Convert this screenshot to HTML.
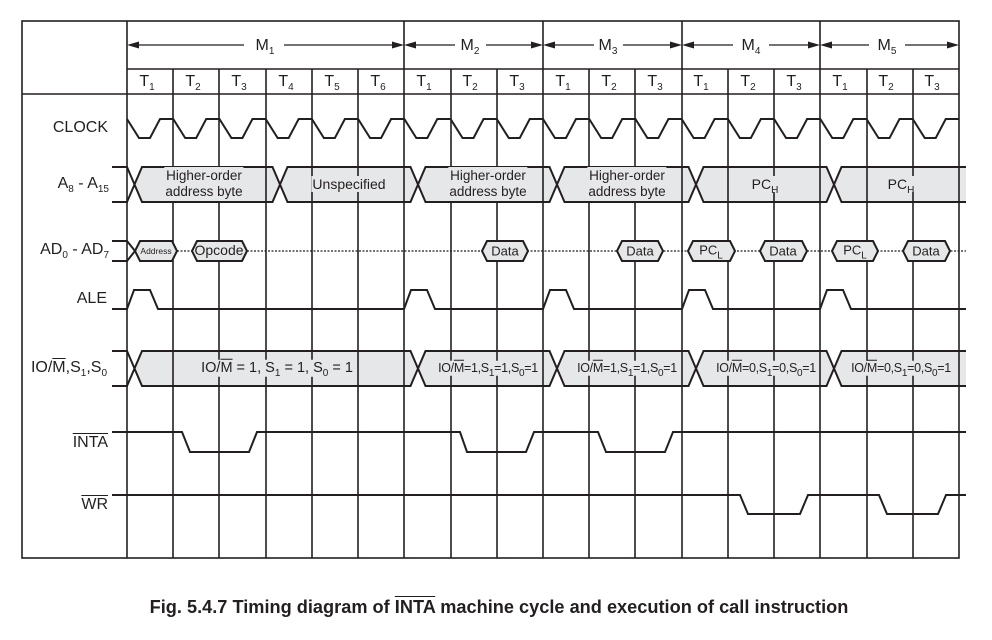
<!DOCTYPE html>
<html><head><meta charset="utf-8"><style>
html,body{margin:0;padding:0;background:#fff;}
body{width:992px;height:640px;position:relative;overflow:hidden;font-family:"Liberation Sans",Arial,sans-serif;color:#231f20;}
svg{position:absolute;left:0;top:0;}
.t{position:absolute;transform:translate(-50%,-50%);white-space:nowrap;line-height:1;}
.r{position:absolute;transform:translate(-100%,-50%);white-space:nowrap;line-height:1;font-size:16px;}
sub{font-size:10px;vertical-align:-4px;line-height:0;}
.ov{text-decoration:overline;}
.b{background:#e6e7e8;padding:1px 1px;}
.bw{background:#fff;}
</style></head><body>
<svg width="992" height="640" viewBox="0 0 992 640" fill="none" stroke="#231f20" stroke-width="1.6">
<g fill="#e6e7e8" stroke="#231f20" stroke-width="2">
<polyline points="112,167 127,167 134.5,184.5 127,202 112,202" fill="none"/>
<polygon points="134.5,184.5 142,167 272.5,167 280,184.5 272.5,202 142,202"/>
<polygon points="280,184.5 287.5,167 410.5,167 418,184.5 410.5,202 287.5,202"/>
<polygon points="418,184.5 425.5,167 549.5,167 557,184.5 549.5,202 425.5,202"/>
<polygon points="557,184.5 564.5,167 688.5,167 696,184.5 688.5,202 564.5,202"/>
<polygon points="696,184.5 703.5,167 826.5,167 834,184.5 826.5,202 703.5,202"/>
<path d="M966,167 H841.5 L834,184.5 L841.5,202 H966 Z" stroke="none"/>
<polyline points="966,167 841.5,167 834,184.5 841.5,202 966,202" fill="none"/>
<polyline points="112,351 127,351 134.5,368.5 127,386 112,386" fill="none"/>
<polygon points="134.5,368.5 142,351 410.5,351 418,368.5 410.5,386 142,386"/>
<polygon points="418,368.5 425.5,351 549.5,351 557,368.5 549.5,386 425.5,386"/>
<polygon points="557,368.5 564.5,351 688.5,351 696,368.5 688.5,386 564.5,386"/>
<polygon points="696,368.5 703.5,351 826.5,351 834,368.5 826.5,386 703.5,386"/>
<path d="M966,351 H841.5 L834,368.5 L841.5,386 H966 Z" stroke="none"/>
<polyline points="966,351 841.5,351 834,368.5 841.5,386 966,386" fill="none"/>
</g>
<rect x="22" y="21" width="937" height="537" stroke-width="1.6"/>
<line x1="22" y1="94" x2="959" y2="94"/>
<line x1="127" y1="69" x2="959" y2="69"/>
<g>
<line x1="127" y1="21" x2="127" y2="558"/>
<line x1="404" y1="21" x2="404" y2="558"/>
<line x1="543" y1="21" x2="543" y2="558"/>
<line x1="682" y1="21" x2="682" y2="558"/>
<line x1="820" y1="21" x2="820" y2="558"/>
<line x1="173" y1="69" x2="173" y2="558"/>
<line x1="219" y1="69" x2="219" y2="558"/>
<line x1="266" y1="69" x2="266" y2="558"/>
<line x1="312" y1="69" x2="312" y2="558"/>
<line x1="358" y1="69" x2="358" y2="558"/>
<line x1="451" y1="69" x2="451" y2="558"/>
<line x1="497" y1="69" x2="497" y2="558"/>
<line x1="589" y1="69" x2="589" y2="558"/>
<line x1="635" y1="69" x2="635" y2="558"/>
<line x1="728" y1="69" x2="728" y2="558"/>
<line x1="774" y1="69" x2="774" y2="558"/>
<line x1="867" y1="69" x2="867" y2="558"/>
<line x1="913" y1="69" x2="913" y2="558"/>
</g>
<g stroke-width="1.3">
<line x1="130" y1="45" x2="244" y2="45"/><line x1="284" y1="45" x2="401" y2="45"/>
<line x1="407" y1="45" x2="455" y2="45"/><line x1="486" y1="45" x2="540" y2="45"/>
<line x1="546" y1="45" x2="594" y2="45"/><line x1="623" y1="45" x2="679" y2="45"/>
<line x1="685" y1="45" x2="733" y2="45"/><line x1="769" y1="45" x2="817" y2="45"/>
<line x1="823" y1="45" x2="869" y2="45"/><line x1="905" y1="45" x2="956" y2="45"/>
</g>
<g fill="#231f20" stroke="none">
<polygon points="127,45 139,41.5 139,48.5"/><polygon points="404,45 392,41.5 392,48.5"/>
<polygon points="404,45 416,41.5 416,48.5"/><polygon points="543,45 531,41.5 531,48.5"/>
<polygon points="543,45 555,41.5 555,48.5"/><polygon points="682,45 670,41.5 670,48.5"/>
<polygon points="682,45 694,41.5 694,48.5"/><polygon points="820,45 808,41.5 808,48.5"/>
<polygon points="820,45 832,41.5 832,48.5"/><polygon points="959,45 947,41.5 947,48.5"/>
</g>
<path stroke-width="2" d="M127,119 l12,19 h11 l10,-19 h13.22 l12,19 h11 l10,-19 h13.22 l12,19 h11 l10,-19 h13.22 l12,19 h11 l10,-19 h13.22 l12,19 h11 l10,-19 h13.22 l12,19 h11 l10,-19 h13.22 l12,19 h11 l10,-19 h13.22 l12,19 h11 l10,-19 h13.22 l12,19 h11 l10,-19 h13.22 l12,19 h11 l10,-19 h13.22 l12,19 h11 l10,-19 h13.22 l12,19 h11 l10,-19 h13.22 l12,19 h11 l10,-19 h13.22 l12,19 h11 l10,-19 h13.22 l12,19 h11 l10,-19 h13.22 l12,19 h11 l10,-19 h13.22 l12,19 h11 l10,-19 h13.22 l12,19 h11 l10,-19 h13.22"/>
<line x1="177" y1="251" x2="966" y2="251" stroke-width="1.2" stroke-dasharray="2,1.5"/>
<g stroke-width="2">
<polyline points="112,241 127,241 135,251 127,261 112,261"/>
<g fill="#e6e7e8">
<polygon points="135,251 140,241 172,241 177,251 172,261 140,261"/>
<polygon points="192,251 197,241 242,241 247,251 242,261 197,261"/>
<polygon points="482,251 487,241 523,241 528,251 523,261 487,261"/>
<polygon points="617,251 622,241 658,241 663,251 658,261 622,261"/>
<polygon points="688,251 693,241 730,241 735,251 730,261 693,261"/>
<polygon points="760,251 765,241 802,241 807,251 802,261 765,261"/>
<polygon points="832,251 837,241 873,241 878,251 873,261 837,261"/>
<polygon points="903,251 908,241 945,241 950,251 945,261 908,261"/>
</g>
<path d="M112,309 H127 l7,-19 h16 l8,19 H404 l7,-19 h16 l8,19 H543 l7,-19 h16 l8,19 H682 l7,-19 h16 l8,19 H820 l7,-19 h16 l8,19 H966"/>
<path d="M112,432 H182 L190,452 H249 L257,432 H460 L467,452 H526 L534,432 H598 L606,452 H665 L673,432 H966"/>
<path d="M112,495 H740 L748,514 H800 L808,495 H879 L887,514 H938 L946,495 H966"/>
</g>
</svg>

<div class="t bw" style="left:265px;top:46px;font-size:16px;padding:0 3px">M<sub>1</sub></div>
<div class="t bw" style="left:470px;top:46px;font-size:16px">M<sub>2</sub></div>
<div class="t bw" style="left:608px;top:46px;font-size:16px">M<sub>3</sub></div>
<div class="t bw" style="left:751px;top:46px;font-size:16px">M<sub>4</sub></div>
<div class="t bw" style="left:887px;top:46px;font-size:16px">M<sub>5</sub></div>
<div class="t" style="left:147px;top:82px;font-size:16px">T<sub>1</sub></div>
<div class="t" style="left:193px;top:82px;font-size:16px">T<sub>2</sub></div>
<div class="t" style="left:239px;top:82px;font-size:16px">T<sub>3</sub></div>
<div class="t" style="left:286px;top:82px;font-size:16px">T<sub>4</sub></div>
<div class="t" style="left:332px;top:82px;font-size:16px">T<sub>5</sub></div>
<div class="t" style="left:378px;top:82px;font-size:16px">T<sub>6</sub></div>
<div class="t" style="left:424px;top:82px;font-size:16px">T<sub>1</sub></div>
<div class="t" style="left:470px;top:82px;font-size:16px">T<sub>2</sub></div>
<div class="t" style="left:517px;top:82px;font-size:16px">T<sub>3</sub></div>
<div class="t" style="left:563px;top:82px;font-size:16px">T<sub>1</sub></div>
<div class="t" style="left:609px;top:82px;font-size:16px">T<sub>2</sub></div>
<div class="t" style="left:655px;top:82px;font-size:16px">T<sub>3</sub></div>
<div class="t" style="left:701px;top:82px;font-size:16px">T<sub>1</sub></div>
<div class="t" style="left:748px;top:82px;font-size:16px">T<sub>2</sub></div>
<div class="t" style="left:794px;top:82px;font-size:16px">T<sub>3</sub></div>
<div class="t" style="left:840px;top:82px;font-size:16px">T<sub>1</sub></div>
<div class="t" style="left:886px;top:82px;font-size:16px">T<sub>2</sub></div>
<div class="t" style="left:932px;top:82px;font-size:16px">T<sub>3</sub></div>
<div class="r" style="left:108px;top:128px">CLOCK</div>
<div class="r" style="left:109px;top:184px">A<sub>8</sub> - A<sub>15</sub></div>
<div class="r" style="left:109px;top:250px">AD<sub>0</sub> - AD<sub>7</sub></div>
<div class="r" style="left:107px;top:299px">ALE</div>
<div class="r" style="left:107px;top:368px">IO/<span class="ov">M</span>,S<sub>1</sub>,S<sub>0</sub></div>
<div class="r" style="left:108px;top:443px"><span class="ov">INTA</span></div>
<div class="r" style="left:108px;top:505px"><span class="ov">WR</span></div>
<div class="t b" style="left:204px;top:184px;font-size:13.5px;text-align:center;line-height:16px">Higher-order<br>address byte</div>
<div class="t b" style="left:349px;top:184px;font-size:14px">Unspecified</div>
<div class="t b" style="left:488px;top:184px;font-size:13.5px;text-align:center;line-height:16px">Higher-order<br>address byte</div>
<div class="t b" style="left:627px;top:184px;font-size:13.5px;text-align:center;line-height:16px">Higher-order<br>address byte</div>
<div class="t b" style="left:765px;top:184px;font-size:14px">PC<sub>H</sub></div>
<div class="t b" style="left:901px;top:184px;font-size:14px">PC<sub>H</sub></div>
<div class="t" style="left:156px;top:251px;font-size:8.5px">Address</div>
<div class="t" style="left:219px;top:250px;font-size:14px">Opcode</div>
<div class="t" style="left:505px;top:251px;font-size:13px">Data</div>
<div class="t" style="left:640px;top:251px;font-size:13px">Data</div>
<div class="t" style="left:711px;top:250px;font-size:13px">PC<sub>L</sub></div>
<div class="t" style="left:783px;top:251px;font-size:13px">Data</div>
<div class="t" style="left:855px;top:250px;font-size:13px">PC<sub>L</sub></div>
<div class="t" style="left:926px;top:251px;font-size:13px">Data</div>
<div class="t b" style="left:277px;top:368px;font-size:14.5px">IO/<span class="ov">M</span> = 1, S<sub>1</sub> = 1, S<sub>0</sub> = 1</div>
<div class="t b" style="left:488px;top:368px;font-size:12.5px;letter-spacing:-0.3px">IO/<span class="ov">M</span>=1,S<sub>1</sub>=1,S<sub>0</sub>=1</div>
<div class="t b" style="left:627px;top:368px;font-size:12.5px;letter-spacing:-0.3px">IO/<span class="ov">M</span>=1,S<sub>1</sub>=1,S<sub>0</sub>=1</div>
<div class="t b" style="left:766px;top:368px;font-size:12.5px;letter-spacing:-0.3px">IO/<span class="ov">M</span>=0,S<sub>1</sub>=0,S<sub>0</sub>=1</div>
<div class="t b" style="left:901px;top:368px;font-size:12.5px;letter-spacing:-0.3px">IO/<span class="ov">M</span>=0,S<sub>1</sub>=0,S<sub>0</sub>=1</div>
<div class="t" style="left:499px;top:607px;font-size:18px;font-weight:bold;transform:translate(-50%,-50%) scaleX(1.01)">Fig. 5.4.7 Timing diagram of <span class="ov">INTA</span> machine cycle and execution of call instruction</div>
</body></html>
